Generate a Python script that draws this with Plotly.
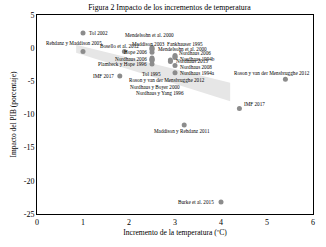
import plotly.graph_objects as go

# ---- data ----
studies = ["Tol 2002", "Rehdanz y Maddison 2005", "Bosello et al. 2012",
           "Mendelsohn et al. 2000", "Maddison 2003", "Mendelsohn et al. 2000",
           "Hope 2006", "Nordhaus y Boyer 2000", "Nordhaus 2006", "Nordhaus y Yang 1996",
           "Tol 1995", "Plambeck y Hope 1996", "Fankhauser 1995", "Nordhaus 2006",
           "Nordhaus 1994b", "Roson y van der Mensbrugghe 2012", "Nordhaus 2013",
           "Nordhaus 2008", "Nordhaus 1994a", "IMF 2017", "Maddison y Rehdanz 2011",
           "IMF 2017", "Roson y van der Mensbrugghe 2012", "Burke et al. 2015"]
temp = [1.0, 1.0, 1.9, 2.5, 2.5, 2.5, 2.5, 2.5, 2.5, 2.5, 2.5, 2.5,
        3.0, 3.0, 3.0, 2.9, 2.9, 3.0, 3.0, 1.8, 3.2, 4.4, 5.4, 4.0]
impact = [2.3, -0.5, -0.5, 0.1, -0.1, -0.2, -0.6, -1.5, -1.7, -1.7, -1.9, -2.4,
          -1.1, -1.3, -1.4, -1.8, -2.0, -2.6, -3.7, -4.2, -11.6, -9.1, -4.7, -23.2]

band_x = [0.85, 4.2]
band_upper = [0.5, -5.2]
band_lower = [-0.7, -8.0]

x_ticks = [0, 1, 2, 3, 4, 5, 6]
y_ticks = [5, 0, -5, -10, -15, -20, -25]

# ---- label placement (style) ----
lab_anchor = ["left", "center", "center", "center", "center", "left",
              "right", "center", "right", "center", "center", "right",
              "center", "left", "left", "center", "left", "left", "left",
              "right", "center", "left", "center", "right"]
lab_dx = [4, -9, -5, -3, -4, 4, -3, 3, -3, 8, -1, -3,
          10, 2, 3, -3, 4, 3, 3, -4, -2, 3, -13, -5]
lab_dy = [0, 8, 5, 13, 5, 0, 0, -29, 0, -34, -13, 0,
          11, 4, -1.5, -20, 0, -1.5, 0, 0, -6, 5, 6, 0]

FONT = "Liberation Serif, Times New Roman, serif"

fig = go.Figure()

# shaded band
fig.add_trace(go.Scatter(
    x=band_x + band_x[::-1],
    y=band_upper + band_lower[::-1],
    fill="toself", fillcolor="#e6e6e6",
    line=dict(width=0), mode="lines", hoverinfo="skip", showlegend=False))

fig.add_trace(go.Scatter(
    x=temp, y=impact, mode="markers",
    marker=dict(size=5, color="#8c8c8c"),
    showlegend=False))

for i, s in enumerate(studies):
    fig.add_annotation(x=temp[i], y=impact[i], text=s, showarrow=False,
                       xanchor=lab_anchor[i], yanchor="middle",
                       xshift=lab_dx[i], yshift=lab_dy[i],
                       font=dict(family=FONT, size=5.2, color="black"))

fig.update_layout(
    width=326, height=247,
    margin=dict(l=37, r=11, t=15, b=30),
    paper_bgcolor="white", plot_bgcolor="white",
    font=dict(family=FONT, color="black"),
    title=dict(text="Figura 2 Impacto de los incrementos de temperatura",
               x=0.52, xanchor="center", y=0.972, yanchor="middle",
               font=dict(family=FONT, size=7.8, color="black")),
)
fig.update_xaxes(range=[0, 6], tickvals=x_ticks, ticktext=[str(v) for v in x_ticks],
                 showgrid=False, zeroline=False, showline=True, linecolor="black",
                 linewidth=1, mirror=True, ticks="", tickfont=dict(size=8),
                 title=dict(text="Incremento de la temperatura (ºC)",
                            font=dict(size=7.6), standoff=4))
fig.update_yaxes(range=[-25, 5], tickvals=y_ticks, ticktext=[str(v) for v in y_ticks],
                 showgrid=False, zeroline=False, showline=True, linecolor="black",
                 linewidth=1, mirror=True, ticks="", tickfont=dict(size=8),
                 title=dict(text="Impacto del PIB (porcentaje)",
                            font=dict(size=7.4), standoff=6))

fig.write_html("out.html", config={"displayModeBar": False},
               post_script="document.body.style.margin='0px';document.body.style.padding='0px';")
